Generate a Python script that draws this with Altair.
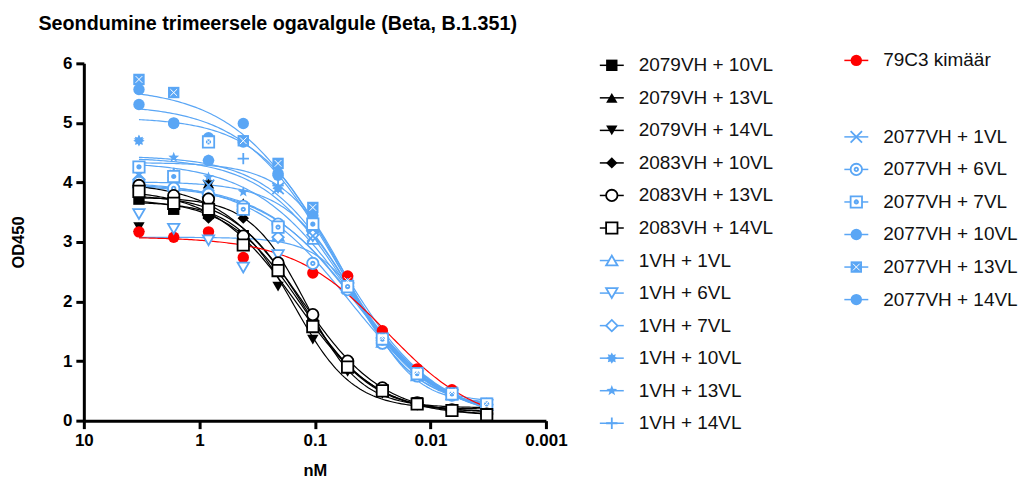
import numpy as np
import pandas as pd
import altair as alt

# Antibody concentration (nM), two-fold dilution series
conc = [3.333, 1.667, 0.8333, 0.4167, 0.2083, 0.1042, 0.05208, 0.02604, 0.01302, 0.00651, 0.003255]

# OD450 readings per antibody construct
od_2079_10 = [3.72, 3.55, 3.48, 3.10, 2.55, 1.62, 0.95, 0.52, 0.30, 0.18, 0.13]
od_2079_13 = [3.25, 3.80, 3.98, 3.65, 2.60, 1.70, 0.98, 0.55, 0.30, 0.17, 0.10]
od_2079_14 = [3.25, 3.70, 3.95, 3.12, 2.25, 1.36, 0.82, 0.45, 0.25, 0.16, 0.10]
od_2083_10 = [3.80, 3.70, 3.40, 3.40, 2.55, 1.65, 0.95, 0.52, 0.30, 0.18, 0.12]
od_2083_13 = [3.95, 3.78, 3.72, 3.10, 2.65, 1.78, 1.00, 0.55, 0.30, 0.18, 0.11]
od_2083_14 = [3.85, 3.65, 3.55, 2.95, 2.52, 1.58, 0.90, 0.50, 0.28, 0.17, 0.10]

od_1_1 = [4.00, 3.95, 3.85, 3.60, 3.10, 3.05, 2.25, 1.32, 0.76, 0.44, 0.26]
od_1_6 = [3.47, 3.22, 3.03, 2.57, 2.78, 3.10, 2.22, 1.30, 0.75, 0.43, 0.26]
od_1_7 = [4.05, 3.90, 3.80, 3.55, 3.08, 3.12, 2.25, 1.35, 0.78, 0.45, 0.27]
od_1_10 = [4.70, 4.15, 4.37, 3.60, 3.90, 3.20, 2.25, 1.33, 0.77, 0.44, 0.26]
od_1_13 = [4.71, 4.42, 4.09, 3.84, 3.90, 3.30, 2.28, 1.35, 0.78, 0.45, 0.27]
od_1_14 = [4.25, 4.15, 4.37, 4.40, 3.95, 3.35, 2.30, 1.38, 0.80, 0.46, 0.27]

od_79c3 = [3.17, 3.08, 3.17, 2.74, 2.61, 2.48, 2.43, 1.51, 0.87, 0.52, 0.28]

od_2077_1 = [4.12, 4.00, 3.95, 3.55, 3.90, 3.10, 2.22, 1.33, 0.77, 0.44, 0.27]
od_2077_6 = [4.00, 3.90, 3.80, 3.60, 3.30, 2.64, 2.20, 1.30, 0.75, 0.43, 0.26]
od_2077_7 = [4.26, 4.10, 4.68, 3.55, 3.25, 3.30, 2.25, 1.37, 0.79, 0.45, 0.28]
od_2077_10 = [5.56, 4.99, 4.75, 4.68, 4.15, 3.45, 2.30, 1.38, 0.80, 0.46, 0.28]
od_2077_13 = [5.73, 5.51, 4.68, 4.70, 4.32, 3.58, 2.35, 1.40, 0.82, 0.48, 0.29]
od_2077_14 = [5.31, 5.00, 4.37, 4.99, 4.12, 3.40, 2.30, 1.36, 0.79, 0.45, 0.27]

BLACK = "#000000"
BLUE = "#5AA6F5"
RED = "#FF0000"


def star_path(points, inner):
    """Closed star outline in the unit symbol box."""
    ang = -np.pi / 2 + np.arange(2 * points) * np.pi / points
    rad = np.where(np.arange(2 * points) % 2 == 0, 1.0, inner)
    pts = [f"{r * np.cos(a):.3f},{r * np.sin(a):.3f}" for a, r in zip(ang, rad)]
    return "M" + "L".join(pts) + "Z"


DOT = "M-0.3,0A0.3,0.3 0 1,0 0.3,0A0.3,0.3 0 1,0 -0.3,0Z"
CIRCLE_DOT = "M-1,0A1,1 0 1,0 1,0A1,1 0 1,0 -1,0Z" + DOT
SQUARE_DOT = "M-1,-1H1V1H-1Z" + DOT
PLUS = "M-1,0H1M0,-1V1"
XMARK = "M-1,-1L1,1M-1,1L1,-1"

# name, readings, colour, symbol, filled
series = [
    ("1VH + 1VL", od_1_1, BLUE, "triangle-up", False),
    ("1VH + 6VL", od_1_6, BLUE, "triangle-down", False),
    ("1VH + 7VL", od_1_7, BLUE, "diamond", False),
    ("1VH + 10VL", od_1_10, BLUE, star_path(8, 0.62), True),
    ("1VH + 13VL", od_1_13, BLUE, star_path(5, 0.42), True),
    ("1VH + 14VL", od_1_14, BLUE, PLUS, False),
    ("2077VH + 1VL", od_2077_1, BLUE, XMARK, False),
    ("2077VH + 6VL", od_2077_6, BLUE, CIRCLE_DOT, False),
    ("2077VH + 7VL", od_2077_7, BLUE, SQUARE_DOT, False),
    ("2077VH + 10VL", od_2077_10, BLUE, "circle", True),
    ("2077VH + 13VL", od_2077_13, BLUE, "square", True),
    ("2077VH + 14VL", od_2077_14, BLUE, "circle", True),
    ("2079VH + 10VL", od_2079_10, BLACK, "square", True),
    ("2079VH + 13VL", od_2079_13, BLACK, "triangle-up", True),
    ("2079VH + 14VL", od_2079_14, BLACK, "triangle-down", True),
    ("2083VH + 10VL", od_2083_10, BLACK, "diamond", True),
    ("2083VH + 13VL", od_2083_13, BLACK, "circle", False),
    ("2083VH + 14VL", od_2083_14, BLACK, "square", False),
    ("79C3 kimäär", od_79c3, RED, "circle", True),
]

names = [s[0] for s in series]
colors = [s[2] for s in series]
shapes = [s[3] for s in series]
filled_names = [s[0] for s in series if s[4]]
open_names = [s[0] for s in series if not s[4]]

# Four-parameter logistic fit: grid over logEC50 and Hill slope,
# bottom and top solved by linear least squares.
log_c = np.log10(conc)
ec_grid = np.arange(-3.0, 1.0, 0.01)
hill_grid = np.arange(0.3, 3.0, 0.02)
E, H = np.meshgrid(ec_grid, hill_grid, indexing="ij")
with np.errstate(over="ignore"):
    F = 1.0 / (1.0 + 10.0 ** ((E[..., None] - log_c) * H[..., None]))


def fit_4pl(y):
    y = np.asarray(y)
    fm = F.mean(-1)
    ym = y.mean()
    cov = ((F - fm[..., None]) * (y - ym)).sum(-1)
    var = ((F - fm[..., None]) ** 2).sum(-1) + 1e-12
    slope = cov / var
    bottom = ym - slope * fm
    resid = ((bottom[..., None] + slope[..., None] * F - y) ** 2).sum(-1)
    i = np.unravel_index(np.argmin(resid), resid.shape)
    return bottom[i], bottom[i] + slope[i], E[i], H[i]


grid_x = np.logspace(np.log10(conc[0]), np.log10(conc[-1]), 160)
point_rows, curve_rows = [], []
for name, vals, col, shp, fil in series:
    for c, v in zip(conc, vals):
        point_rows.append({"series": name, "conc": c, "od": v})
    b, t, ec, h = fit_4pl(vals)
    with np.errstate(over="ignore"):
        yfit = b + (t - b) / (1.0 + 10.0 ** ((ec - np.log10(grid_x)) * h))
    for c, v in zip(grid_x, yfit):
        curve_rows.append({"series": name, "conc": float(c), "od": float(v)})

points = pd.DataFrame(point_rows)
curves = pd.DataFrame(curve_rows)

color_scale = alt.Scale(domain=names, range=colors)
shape_scale = alt.Scale(domain=names, range=shapes)
FONT = "Liberation Sans"
MSIZE = 130

x_enc = alt.X(
    "conc:Q",
    scale=alt.Scale(type="log", domain=[0.001, 10], reverse=True),
    axis=alt.Axis(
        values=[10, 1, 0.1, 0.01, 0.001], format="~g", title="nM",
        grid=False, labelFlush=False, labelOverlap=False, titlePadding=14,
    ),
)
y_enc = alt.Y(
    "od:Q",
    scale=alt.Scale(domain=[0, 6], nice=False),
    axis=alt.Axis(values=[0, 1, 2, 3, 4, 5, 6], format="d", title="OD450",
                  grid=False, labelFlush=False, titlePadding=36),
)
color_enc = alt.Color("series:N", scale=color_scale, legend=None)
shape_enc = alt.Shape("series:N", scale=shape_scale, legend=None)

lines = alt.Chart(curves).mark_line(strokeWidth=1.2).encode(
    x=x_enc, y=y_enc, color=color_enc, detail="series:N"
)
pts_filled = alt.Chart(points).transform_filter(
    alt.FieldOneOfPredicate(field="series", oneOf=filled_names)
).mark_point(filled=True, opacity=1, size=MSIZE).encode(
    x=x_enc, y=y_enc, color=color_enc, shape=shape_enc
)
pts_open = alt.Chart(points).transform_filter(
    alt.FieldOneOfPredicate(field="series", oneOf=open_names)
).mark_point(filled=False, fill="white", opacity=1, strokeWidth=1.8, size=MSIZE).encode(
    x=x_enc, y=y_enc, color=color_enc, shape=shape_enc
)
pts_pattern = alt.Chart(points).transform_filter(
    alt.datum.series == "2077VH + 13VL"
).mark_point(shape=XMARK, filled=False, color="white", opacity=1, strokeWidth=1, size=45).encode(
    x=x_enc, y=y_enc
)

main = alt.layer(lines, pts_filled, pts_open, pts_pattern).properties(width=463, height=358)

# Legend panel: two columns of entries
legend_col = [0] * 12 + [1] * 7
legend_row = list(range(12)) + [-0.15, 2.2, 3.2, 4.2, 5.2, 6.2, 7.2]
legend_names = [
    "2079VH + 10VL", "2079VH + 13VL", "2079VH + 14VL",
    "2083VH + 10VL", "2083VH + 13VL", "2083VH + 14VL",
    "1VH + 1VL", "1VH + 6VL", "1VH + 7VL", "1VH + 10VL", "1VH + 13VL", "1VH + 14VL",
    "79C3 kimäär",
    "2077VH + 1VL", "2077VH + 6VL", "2077VH + 7VL", "2077VH + 10VL",
    "2077VH + 13VL", "2077VH + 14VL",
]
legend_df = pd.DataFrame({"series": legend_names, "col": legend_col, "row": legend_row})

lx = alt.X("col:Q", scale=alt.Scale(domain=[0, 1], range=[46, 291]), axis=None)
ly = alt.Y("row:Q", scale=alt.Scale(domain=[10.92, -0.06], nice=False, zero=False), axis=None)

leg_base = alt.Chart(legend_df)
leg_line = leg_base.mark_point(shape="stroke", size=576, strokeWidth=1.5, filled=False, opacity=1).encode(
    x=lx, y=ly, color=color_enc
)
leg_filled = leg_base.transform_filter(
    alt.FieldOneOfPredicate(field="series", oneOf=filled_names)
).mark_point(filled=True, opacity=1, size=MSIZE).encode(x=lx, y=ly, color=color_enc, shape=shape_enc)
leg_open = leg_base.transform_filter(
    alt.FieldOneOfPredicate(field="series", oneOf=open_names)
).mark_point(filled=False, fill="white", opacity=1, strokeWidth=1.8, size=MSIZE).encode(
    x=lx, y=ly, color=color_enc, shape=shape_enc
)
leg_pattern = leg_base.transform_filter(
    alt.datum.series == "2077VH + 13VL"
).mark_point(shape=XMARK, filled=False, color="white", opacity=1, strokeWidth=1, size=45).encode(x=lx, y=ly)
leg_text = leg_base.mark_text(align="left", baseline="middle", dx=27, fontSize=19, font=FONT, color="#111111").encode(
    x=lx, y=ly, text="series:N"
)
legend = alt.layer(leg_line, leg_filled, leg_open, leg_pattern, leg_text).properties(width=400, height=358)

chart = alt.hconcat(main, legend, spacing=20, bounds="flush").properties(
    title=alt.TitleParams(
        "Seondumine trimeersele ogavalgule (Beta, B.1.351)",
        anchor="start", fontSize=19.75, font=FONT, fontWeight="bold", color="black",
        frame="bounds", offset=18, dx=28,
    ),
    padding={"left": 10, "top": 13, "right": 0, "bottom": 0},
).configure_view(stroke=None).configure_axis(
    domainColor="black", domainWidth=3, tickColor="black", tickWidth=3, tickSize=8,
    labelFont=FONT, labelFontSize=17, labelFontWeight="bold", labelColor="black", labelPadding=4,
    titleFont=FONT, titleFontSize=16.5, titleFontWeight="bold", titleColor="black",
)

chart.save("out.html", embed_options={"renderer": "svg", "actions": False})
